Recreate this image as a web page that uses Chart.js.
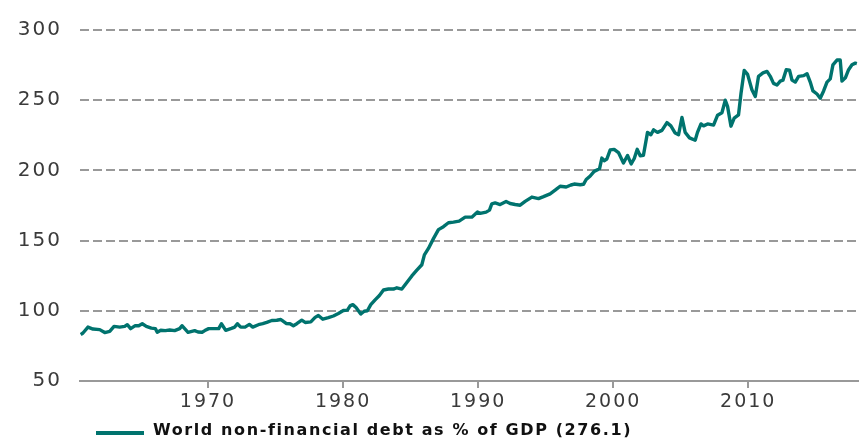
<!DOCTYPE html>
<html>
<head>
<meta charset="utf-8">
<script src="https://cdn.jsdelivr.net/npm/chart.js@4/dist/chart.umd.min.js"></script>
<style>
  html, body { margin: 0; padding: 0; background: #fff; }
  #wrap { width: 859px; height: 448px; position: relative; }
</style>
</head>
<body>
<div id="wrap"><canvas id="c"></canvas></div>
<script>
// 세계 비금융부문 부채 (GDP 대비 %), 분기별 근사값 — 그림에서 읽은 값
const YEARS = [
  1960.57, 1960.74, 1961.11, 1961.48, 1961.98, 1962.35, 1962.72, 1963.04, 1963.46, 1963.83,
  1964.02, 1964.27, 1964.61, 1964.87, 1965.13, 1965.43, 1965.80, 1966.10, 1966.24, 1966.50,
  1966.84, 1967.16, 1967.53, 1967.90, 1968.07, 1968.52, 1969.01, 1969.26, 1969.56, 1969.76,
  1970.05, 1970.50, 1970.79, 1970.99, 1971.31, 1971.73, 1971.98, 1972.17, 1972.42, 1972.74,
  1973.06, 1973.31, 1973.73, 1974.05, 1974.35, 1974.72, 1975.09, 1975.39, 1975.58, 1975.78,
  1976.07, 1976.32, 1976.57, 1976.94, 1977.19, 1977.61, 1977.93, 1978.17, 1978.50, 1978.91,
  1979.28, 1979.65, 1980.02, 1980.32, 1980.52, 1980.72, 1980.96, 1981.31, 1981.56, 1981.80,
  1982.05, 1982.37, 1982.69, 1982.99, 1983.36, 1983.73, 1983.98, 1984.35, 1984.72, 1985.09,
  1985.46, 1985.83, 1986.02, 1986.32, 1986.69, 1987.06, 1987.43, 1987.80, 1988.17, 1988.59,
  1989.04, 1989.53, 1989.95, 1990.15, 1990.59, 1990.84, 1991.01, 1991.26, 1991.63, 1992.07,
  1992.37, 1992.74, 1993.11, 1993.48, 1993.98, 1994.47, 1994.84, 1995.33, 1995.70, 1996.07,
  1996.52, 1996.87, 1997.11, 1997.56, 1997.80, 1998.00, 1998.30, 1998.59, 1998.99, 1999.16,
  1999.33, 1999.53, 1999.78, 2000.07, 2000.39, 2000.76, 2001.06, 2001.33, 2001.56, 2001.78,
  2002.00, 2002.24, 2002.54, 2002.79, 2002.99, 2003.28, 2003.61, 2003.98, 2004.27, 2004.59,
  2004.84, 2005.09, 2005.33, 2005.65, 2006.07, 2006.24, 2006.50, 2006.69, 2006.99, 2007.43,
  2007.73, 2008.05, 2008.30, 2008.47, 2008.72, 2008.96, 2009.28, 2009.46, 2009.70, 2009.95,
  2010.27, 2010.52, 2010.76, 2011.09, 2011.39, 2011.63, 2011.87, 2012.13, 2012.37, 2012.57,
  2012.81, 2013.06, 2013.24, 2013.48, 2013.73, 2014.10, 2014.35, 2014.59, 2014.79, 2015.09,
  2015.33, 2015.58, 2015.83, 2016.07, 2016.27, 2016.57, 2016.81, 2016.94, 2017.19, 2017.43,
  2017.68, 2017.93, 2018.04,
];
const DEBT = [
   83.1,  84.2,  88.4,  87.0,  86.6,  84.5,  85.4,  88.9,  88.4,  88.9,
   90.1,  87.3,  89.4,  89.4,  90.8,  88.9,  87.7,  87.3,  84.7,  86.1,
   85.9,  86.3,  85.9,  87.3,  89.4,  84.7,  85.9,  84.9,  84.7,  85.9,
   87.3,  87.3,  87.3,  90.8,  86.1,  87.5,  88.4,  90.8,  88.4,  88.4,
   90.3,  88.4,  90.1,  90.8,  91.7,  93.1,  93.3,  93.8,  92.4,  91.0,
   90.8,  89.4,  90.8,  93.3,  91.7,  92.1,  95.3,  96.7,  94.0,  95.1,
   96.3,  98.1, 100.2, 100.5, 103.5, 104.4, 102.3,  97.7,  99.7, 100.0,
  104.4, 107.8, 110.9, 114.8, 115.5, 115.5, 116.4, 115.5, 120.1, 124.8,
  128.9, 132.8, 139.8, 144.4, 151.4, 157.8, 159.9, 162.7, 163.2, 163.9,
  166.7, 166.7, 170.3, 169.4, 170.3, 171.7, 176.1, 176.8, 175.7, 177.8,
  176.4, 175.7, 175.2, 177.9, 181.0, 179.9, 181.3, 183.3, 185.9, 188.7,
  188.2, 189.6, 190.3, 189.8, 190.1, 193.5, 196.0, 199.3, 201.2, 208.8,
  206.9, 208.1, 214.6, 215.0, 212.7, 205.3, 210.6, 204.6, 208.5, 215.0,
  210.4, 210.8, 227.1, 225.4, 228.9, 227.1, 228.5, 234.0, 231.7, 226.6,
  225.4, 237.7, 227.1, 223.2, 221.5, 227.1, 233.1, 231.7, 233.1, 232.3,
  239.3, 241.1, 250.0, 245.4, 231.5, 237.3, 239.6, 254.6, 271.2, 268.4,
  257.5, 252.7, 267.0, 269.4, 270.5, 267.0, 262.0, 260.8, 263.6, 264.3,
  271.7, 271.3, 264.3, 262.9, 267.0, 267.5, 268.9, 262.9, 256.6, 254.4,
  251.4, 256.6, 262.9, 265.2, 275.2, 278.6, 278.6, 263.6, 265.9, 271.7,
  275.2, 276.4, 276.1,
];
const X_TICKS = [1970, 1980, 1990, 2000, 2010];
const Y_TICKS = [50, 100, 150, 200, 250, 300];
const SERIES_LABEL = 'World non-financial debt as % of GDP (276.1)';

const TEAL = '#00736e';
const GRID = '#999999';
const TXT = '#3a3a3a';

// 글자 간격 — 원본이 가로로 늘어난 글꼴이라 간격으로 보정
const spacing = {
  id: 'spacing',
  beforeDraw(chart) { chart.ctx.letterSpacing = '2px'; },
  afterDraw(chart) { chart.ctx.letterSpacing = '0px'; },
};

// 아래쪽 범례 (선 + 굵은 글씨)
const legendLine = {
  id: 'legendLine',
  afterDraw(chart) {
    const { ctx, chartArea } = chart;
    const ds = chart.data.datasets[0];
    const x0 = chartArea.left + 16, y = 433;
    ctx.save();
    ctx.letterSpacing = '1.6px';
    ctx.strokeStyle = ds.borderColor;
    ctx.lineWidth = 4;
    ctx.beginPath(); ctx.moveTo(x0, y); ctx.lineTo(x0 + 48, y); ctx.stroke();
    ctx.fillStyle = '#111';
    ctx.font = 'bold 16px "DejaVu Sans"';
    ctx.textBaseline = 'middle';
    ctx.textAlign = 'left';
    ctx.fillText(ds.label, x0 + 57, y - 2);
    ctx.restore();
  },
};

new Chart(document.getElementById('c'), {
  type: 'line',
  data: {
    datasets: [{
      label: SERIES_LABEL,
      data: YEARS.map((x, i) => ({ x, y: DEBT[i] })),
      borderColor: TEAL,
      borderWidth: 3.4,
      pointRadius: 0,
      tension: 0,
      borderJoinStyle: 'round',
      fill: false,
    }],
  },
  options: {
    responsive: true, maintainAspectRatio: false, animation: false, devicePixelRatio: 1,
    layout: { padding: { top: 21, right: 0, bottom: 0, left: 0 } },
    plugins: { legend: { display: false }, tooltip: { enabled: false } },
    scales: {
      x: {
        type: 'linear', min: 1960.52, max: 2018.2,
        afterBuildTicks: s => { s.ticks = X_TICKS.map(v => ({ value: v })); },
        afterFit: s => { s.height = 67; },
        grid: { drawOnChartArea: false, drawTicks: true, tickLength: 7, color: GRID, lineWidth: 2 },
        border: { display: true, color: GRID, width: 2 },
        ticks: { color: TXT, font: { family: 'DejaVu Sans', size: 19 }, padding: 3, maxRotation: 0, callback: v => String(v) },
      },
      y: {
        min: 50, max: 300,
        afterBuildTicks: s => { s.ticks = Y_TICKS.map(v => ({ value: v })); },
        afterFit: s => { s.width = 80; },
        grid: { color: GRID, lineWidth: 2, drawTicks: false },
        border: { display: false, dash: [9, 4] },
        ticks: { color: TXT, font: { family: 'DejaVu Sans', size: 20 }, padding: 18 },
      },
    },
  },
  plugins: [spacing, legendLine],
});
</script>
</body>
</html>
